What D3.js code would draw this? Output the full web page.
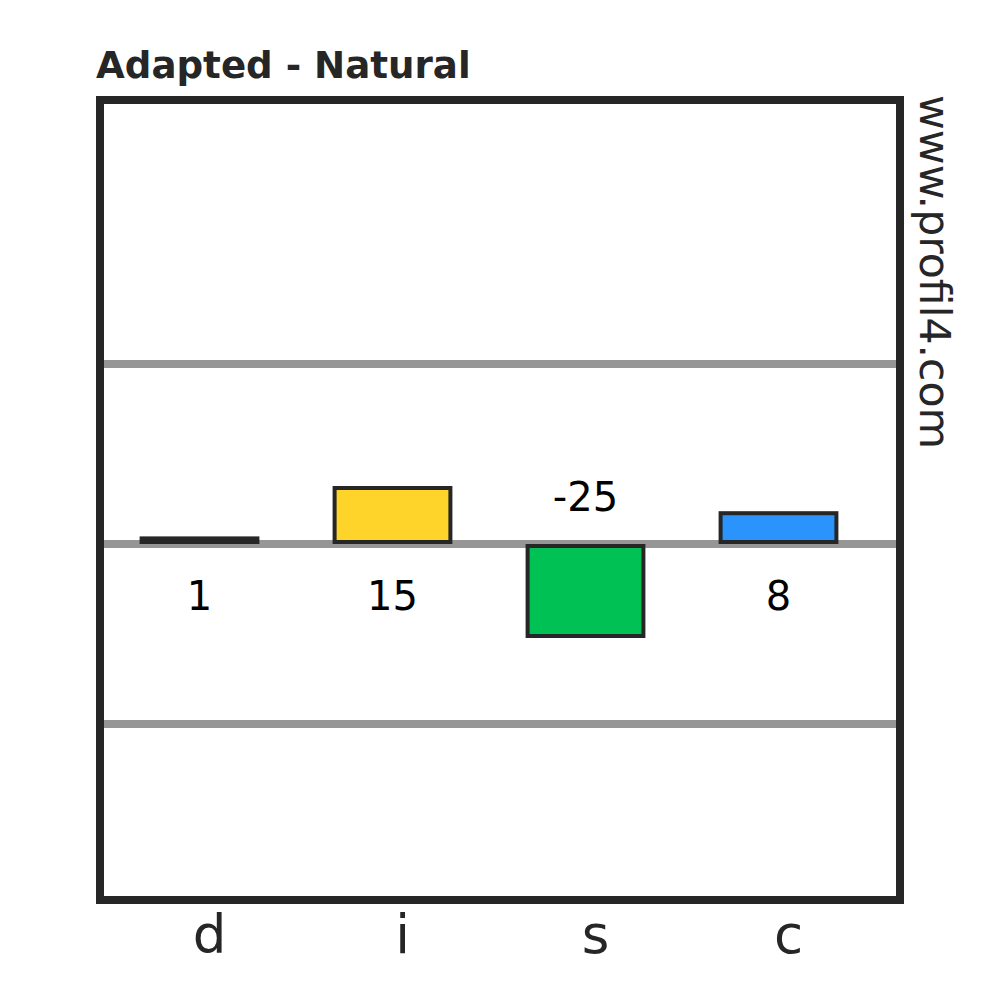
<!DOCTYPE html>
<html>
<head>
<meta charset="utf-8">
<script src="https://cdn.jsdelivr.net/npm/d3@7"></script>
<style>
  body { margin: 0; background: #fff; }
  text { font-family: "DejaVu Sans", sans-serif; }
</style>
</head>
<body>
<script>
const width = 1000;
const height = 1000;

// data
const categories = ["d", "i", "s", "c"];
const values = [1, 15, -25, 8];
const colors = ["#e8262c", "#ffd42a", "#00c153", "#2a93fc"];
const gridValues = [-50, 0, 50];
const title = "Adapted - Natural";
const watermark = "www.profil4.com";

const frame = { left: 100, right: 900, top: 100, bottom: 900 };
const dark = "#262626";

let svg = d3
  .select("body")
  .append("svg")
  .attr("width", width)
  .attr("height", height);

let data = categories.map((c, i) => ({ cat: c, value: values[i], color: colors[i] }));

let xScale = d3
  .scaleBand()
  .domain(categories)
  .range([103, 875])
  .paddingInner(0.4)
  .paddingOuter(0.2);

let yScale = d3.scaleLinear().domain([-50, 50]).range([724, 364]);
let y0 = yScale(0);

// grid lines
svg
  .selectAll("line.grid")
  .data(gridValues)
  .join("line")
  .attr("class", "grid")
  .attr("x1", frame.left)
  .attr("x2", frame.right)
  .attr("y1", (d) => yScale(d))
  .attr("y2", (d) => yScale(d))
  .attr("stroke", "#969696")
  .attr("stroke-width", 8);

// bars, kept 2px off the zero line
const gap = 2;
svg
  .selectAll("rect.bar")
  .data(data)
  .join("rect")
  .attr("class", "bar")
  .attr("x", (d) => xScale(d.cat))
  .attr("width", xScale.bandwidth())
  .attr("y", (d) => (d.value >= 0 ? yScale(d.value) - gap : y0 + gap))
  .attr("height", (d) => Math.abs(yScale(d.value) - y0))
  .attr("fill", (d) => d.color)
  .attr("stroke", dark)
  .attr("stroke-width", 4);

// value labels on the opposite side of the zero line
svg
  .selectAll("text.value")
  .data(data)
  .join("text")
  .attr("class", "value")
  .attr("x", (d) => xScale(d.cat) + xScale.bandwidth() / 2)
  .attr("y", (d) => (d.value >= 0 ? y0 + 66 : y0 - 33))
  .attr("text-anchor", "middle")
  .attr("font-size", 40)
  .attr("fill", "#000")
  .text((d) => d.value);

// frame
svg
  .append("rect")
  .attr("x", frame.left)
  .attr("y", frame.top)
  .attr("width", frame.right - frame.left)
  .attr("height", frame.bottom - frame.top)
  .attr("fill", "none")
  .attr("stroke", dark)
  .attr("stroke-width", 8);

// category labels
svg
  .selectAll("text.cat")
  .data(categories)
  .join("text")
  .attr("class", "cat")
  .attr("x", (d) => xScale(d) + xScale.bandwidth() / 2 + 10)
  .attr("y", 953)
  .attr("text-anchor", "middle")
  .attr("font-size", 53)
  .attr("fill", dark)
  .text((d) => d);

// title
svg
  .append("text")
  .attr("x", 96)
  .attr("y", 78)
  .attr("font-size", 37.2)
  .attr("font-weight", "bold")
  .attr("fill", dark)
  .text(title);

// watermark
svg
  .append("text")
  .attr("transform", "translate(920, 95) rotate(90)")
  .attr("font-size", 42.6)
  .attr("fill", dark)
  .text(watermark);
</script>
</body>
</html>
